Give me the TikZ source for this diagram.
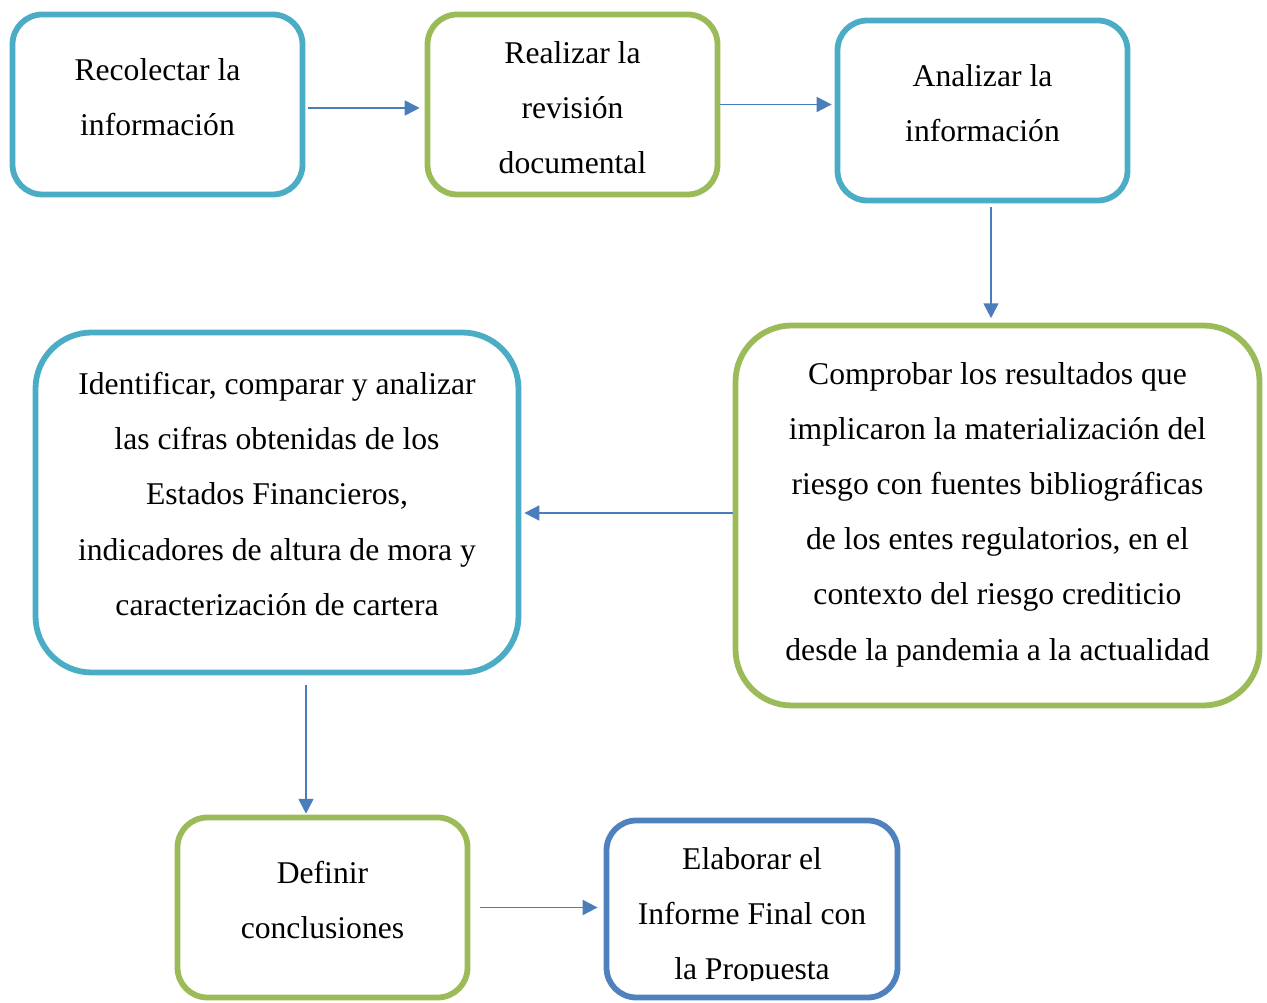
\documentclass[tikz,border=0pt]{standalone}
\usepackage{fontspec}
\setmainfont{Liberation Serif}
\usetikzlibrary{arrows.meta}

\definecolor{boxblue}{HTML}{4BACC6}
\definecolor{boxgreen}{HTML}{9BBB59}
\definecolor{boxnavy}{HTML}{4F81BD}
\definecolor{arrowblue}{HTML}{4A7EBB}

\begin{document}
\begin{tikzpicture}[
            > = {Triangle[length=8.5pt,width=8.5pt]}, % arrow head style
            auto,
            line width = 1.1pt % arrow line style
        ]

        \tikzstyle{box}=[
            draw,
            rounded corners = 17pt,
            line width = 3.3pt,
            fill = white,
            inner sep = 0pt,
            minimum width = 5.8cm,
            minimum height = 3.6cm
        ]
        \tikzstyle{bluebox}=[box, draw = boxblue]
        \tikzstyle{greenbox}=[box, draw = boxgreen]
        \tikzstyle{bigbox}=[rounded corners = 32pt]
        \tikzstyle{boxtext}=[align = center, inner sep = 0pt, font = \fontsize{18}{31.4}\selectfont]
        \tikzstyle{flow}=[->, draw = arrowblue, line width = 1.1pt]

        \useasboundingbox (0,0) rectangle (25.34,20.06);

        % boxes
        \node (recolectar) [bluebox] at (3.15,17.97) {};
        \node (revision) [greenbox] at (11.45,17.97) {};
        \node (analizar) [bluebox] at (19.65,17.85) {};
        \node (comprobar) [greenbox, bigbox, minimum width = 10.48cm, minimum height = 7.6cm] at (19.95,9.75) {};
        \node (identificar) [bluebox, bigbox, minimum width = 9.66cm, minimum height = 6.8cm] at (5.54,10.01) {};
        \node (definir) [greenbox] at (6.45,1.91) {};
        \node (elaborar) [box, draw = boxnavy, minimum width = 5.82cm, minimum height = 3.54cm] at (15.04,1.88) {};

        % texts
        \node (recolectartxt) [boxtext] at ([yshift=0.14cm]recolectar) {Recolectar la\\información};
        \node (revisiontxt) [boxtext] at ([yshift=-0.06cm]revision) {Realizar la\\revisión\\documental};
        \node (analizartxt) [boxtext] at ([yshift=0.14cm]analizar) {Analizar la\\información};
        \node (comprobartxt) [boxtext] at ([yshift=0.02cm]comprobar) {Comprobar los resultados que\\implicaron la materialización del\\riesgo con fuentes bibliográficas\\de los entes regulatorios, en el\\contexto del riesgo crediticio\\desde la pandemia a la actualidad};
        \node (identificartxt) [boxtext] at ([yshift=0.17cm]identificar) {Identificar, comparar y analizar\\las cifras obtenidas de los\\Estados Financieros,\\indicadores de altura de mora y\\caracterización de cartera};
        \node (definirtxt) [boxtext] at ([yshift=0.15cm]definir) {Definir\\conclusiones};
        \begin{scope}
            \clip ([yshift=0.40cm]elaborar.south west) rectangle (elaborar.north east);
            \node (elaborartxt) [boxtext] at ([yshift=-0.16cm]elaborar) {Elaborar el\\Informe Final con\\la Propuesta};
        \end{scope}

        % connectors
        \path ([yshift=-0.07cm]recolectar.east) edge[flow, shorten < = 1.7pt, shorten > = 2.8pt] ([yshift=-0.07cm]recolectar.east -| revision.west);
        \path (revision.east) edge[flow, shorten > = 1.7pt] (revision.east -| analizar.west);
        \path ([xshift=0.17cm]analizar.south) edge[flow, shorten < = 2.3pt, shorten > = 2.5pt] ([xshift=0.17cm]analizar.south |- comprobar.north);
        \path ([yshift=0.05cm]comprobar.west) edge[flow, shorten > = 1.7pt] ([yshift=0.05cm]comprobar.west -| identificar.east);
        \path ([xshift=0.58cm]identificar.south) edge[flow, shorten < = 5.7pt, shorten > = 0.5pt] ([xshift=0.58cm]identificar.south |- definir.north);
        \path (definir.east) edge[flow, shorten < = 5.7pt, shorten > = 3.4pt] (definir.east -| elaborar.west);
    \end{tikzpicture}
\end{document}
